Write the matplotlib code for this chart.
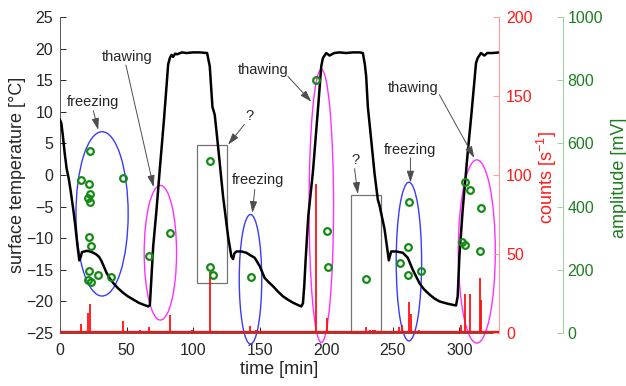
import matplotlib
matplotlib.use("Agg")
import matplotlib.pyplot as plt
from matplotlib.patches import Ellipse, Rectangle

plt.rcParams['font.family'] = ['Liberation Sans', 'DejaVu Sans']
plt.rcParams['mathtext.fontset'] = 'custom'
plt.rcParams['mathtext.rm'] = 'Liberation Sans'
plt.rcParams['mathtext.it'] = 'Liberation Sans:italic'

# ---------------- data ----------------
temp_t = [0, 1, 2, 3.5, 5, 6.5, 8, 10, 11.5, 13, 14.5, 15.5, 16.5, 20, 22.5, 25, 27.5,
          29.5, 31.25, 33, 35, 37.5, 40, 43.5, 47.5, 51, 55, 59, 62.5, 66.25, 67.5,
          68.75, 70, 72.5, 75, 78, 80, 81.25, 82.5, 83.75, 85, 86.5, 88, 91.5, 95,
          100, 105, 110.5, 112.5, 114.5, 116.25, 118.75, 122.5, 126.25, 128.75, 130,
          131, 132.5, 136.25, 140, 143, 146.25, 150, 153.75, 157, 160, 163.5, 167.5,
          171, 175, 178, 181.25, 182.5, 183.5, 184.5, 186.5, 190, 194, 196.25, 197.5,
          200, 202.5, 206, 210, 215, 220, 225, 227.5, 229, 230, 231.25, 233.75,
          236.25, 238.75, 240, 243.75, 246.25, 247, 248.75, 252.5, 257.5, 261.25,
          265, 270, 273.5, 277.5, 281, 285, 290, 294, 297.5, 298.75, 300, 302.5,
          306.25, 309, 312.5, 313.75, 316.25, 318.75, 321, 325, 330]
temp_v = [8.7, 8.2, 6.5, 3.5, 1.0, -0.5, -2.5, -5.5, -8.0, -11.0, -13.5, -13.0, -12.2,
          -12.0, -12.1, -12.3, -12.6, -13.0, -13.65, -14.5, -15.5, -16.4, -17.1, -17.9,
          -18.65, -19.2, -19.7, -20.2, -20.5, -20.8, -20.6, -16.0, -11.3, -5.5, 1.0,
          8.5, 14.0, 17.5, 18.5, 19.0, 18.7, 19.2, 19.1, 19.4, 19.3, 19.4, 19.4, 19.3,
          17.2, 10.8, 9.5, 4.5, -3.4, -9.7, -12.9, -13.3, -12.4, -12.1, -12.1, -12.3,
          -12.7, -13.1, -14.4, -16.3, -17.0, -17.6, -18.4, -19.2, -19.7, -20.2, -20.5,
          -20.8, -20.3, -17.5, -13.5, -6.5, 0.5, 11.0, 17.2, 18.5, 19.3, 18.9, 19.3,
          19.4, 19.3, 19.4, 19.4, 19.3, 17.5, 15.6, 10.8, 5.6, 0.3, -3.9, -4.8, -8.5,
          -12.3, -13.5, -12.1, -12.1, -12.3, -13.1, -15.0, -17.1, -18.1, -18.9, -19.5,
          -20.0, -20.3, -20.5, -20.65, -19.2, -12.9, -5.5, 3.5, 9.5, 17.7, 18.5, 19.3,
          18.9, 19.3, 19.3, 19.4]

count_baseline = 0.8
spike_t = [15.75, 21.2, 22.5, 28, 35, 47, 52, 56, 60, 67, 70, 74, 83, 99.5, 112.5, 117,
           125, 142.5, 147.5, 152, 166, 176, 181, 192, 200.5, 229.5, 233, 235, 237,
           244, 255, 257, 262, 264, 270, 285, 301.2, 304.5, 308, 315.5, 316.5, 320]
spike_h = [6, 12.5, 18.5, 1.5, 1.5, 7.5, 1.5, 1.5, 2, 4, 1.5, 1.5, 11.5, 2, 38.5, 1.5,
           1.5, 4.5, 2, 1.5, 1.5, 1.5, 1.5, 94, 9.5, 4, 2, 2, 2, 1.5, 4, 5, 19.5, 12,
           2, 1.5, 5, 25, 25, 34.5, 21, 1.5]

amp_t = [15.75, 21.5, 22.5, 22.5, 21.25, 22.5, 22, 23, 21.75, 21.25, 23, 28.75, 38.25,
         47.5, 67, 83, 112.75, 112.5, 115.25, 143.25, 192, 200.5, 201.5, 229.5, 262.25,
         261.5, 255.5, 261.75, 271.25, 304.25, 308, 316, 302, 304.5, 315.25]
amp_v = [483, 472, 576, 440, 428, 413, 304, 276, 196, 168, 161, 185, 176, 489, 244, 315,
         545, 210, 185, 176, 800, 323, 210, 170, 413, 272, 220, 185, 196, 479, 454, 396,
         289, 278, 260]

# ellipses: (center t, center temp, width, height, colour)
ellipses = [(31.6, -6.15, 39.2, 26.0, '#3a3aff'),
            (75.4, -12.3, 24.3, 21.3, '#ff30ff'),
            (143.1, -16.5, 16.9, 20.5, '#3a3aff'),
            (196.3, -4.9, 18.4, 43.2, '#ff30ff'),
            (262.1, -13.7, 19.1, 25.1, '#3a3aff'),
            (313.1, -12.1, 27.8, 29.0, '#ff30ff')]
# rectangles: (t0, temp0, width, height)
rects = [(103.0, -17.1, 22.5, 21.8),
         (218.3, -25.0, 23.0, 21.9)]
# annotations: text, text pos, arrow tail, arrow head
notes = [('freezing', (25, 11.6), (25, 10.2), (28.7, 7.15)),
         ('thawing', (50.8, 18.7), (49.5, 17.4), (70.3, -1.9)),
         ('?', (142.5, 9.3), (138.5, 8.0), (126.3, 4.8)),
         ('thawing', (152.5, 16.6), (171.2, 15.6), (188.75, 11.6)),
         ('freezing', (148.75, -0.75), (146.3, -2.3), (144.5, -6.0)),
         ('?', (221.75, 2.3), (221.25, 1.0), (223.75, -3.0)),
         ('freezing', (263.25, 4.0), (263.25, 2.7), (263.25, -1.2)),
         ('thawing', (265, 13.7), (285, 12.7), (311.25, 2.7))]

x_ticks = [0, 50, 100, 150, 200, 250, 300]
temp_ticks = [-25, -20, -15, -10, -5, 0, 5, 10, 15, 20, 25]
count_ticks = [0, 50, 100, 150, 200]
amp_ticks = [0, 200, 400, 600, 800, 1000]

# ---------------- figure ----------------
W, H = 626, 386
fig = plt.figure(figsize=(W / 100, H / 100), dpi=100)
ax = fig.add_axes([60 / W, 1 - 333 / H, 439.3 / W, 316 / H])

txtc = '#262626'
ax.set_xlim(0, 330)
ax.set_ylim(-25, 25)
ax.set_xticks(x_ticks)
ax.set_yticks(temp_ticks)
ax.tick_params(direction='in', length=4, width=0.7, colors=txtc, labelsize=11.5)
ax.tick_params(axis='x', pad=7)
ax.tick_params(axis='y', pad=5)
for s in ['top', 'right']:
    ax.spines[s].set_visible(False)
for s in ['left', 'bottom']:
    ax.spines[s].set_color('0.35')
    ax.spines[s].set_linewidth(0.7)

for cx, cy, w, h, c in ellipses:
    ax.add_patch(Ellipse((cx, cy), w, h, fill=False, ec=c, lw=1.0, clip_on=False, zorder=2))
for x0, y0, w, h in rects:
    ax.add_patch(Rectangle((x0, y0), w, h, fill=False, ec='0.45', lw=0.9, clip_on=False, zorder=2))

ax.plot(temp_t, temp_v, color='black', lw=1.8, zorder=3)

for txt, tp, tail, head in notes:
    ax.text(tp[0], tp[1], txt, ha='center', va='center', fontsize=10.5, color=txtc)
    ax.annotate('', xy=head, xytext=tail,
                arrowprops=dict(arrowstyle='-|>,head_length=0.7,head_width=0.22',
                                color='0.3', lw=0.7, shrinkA=0, shrinkB=0,
                                mutation_scale=10))

# counts axis
ax2 = ax.twinx()
ax2.set_ylim(0, 200)
ax2.set_yticks(count_ticks)
for s in ['top', 'left', 'bottom']:
    ax2.spines[s].set_visible(False)
ax2.spines['right'].set_color('#ff9d9d')
ax2.spines['right'].set_linewidth(0.8)
ax2.tick_params(direction='in', length=4, width=0.7, color='#ff9d9d',
                labelcolor='#ff1a1a', labelsize=11.5, pad=5)
ax2.hlines(count_baseline, 0, 330, color='#ff1010', lw=1.6, zorder=3)
ax2.vlines(spike_t, count_baseline, spike_h, color='#ff1010', lw=1.3, zorder=3)

# amplitude axis
ax3 = ax.twinx()
ax3.set_ylim(0, 1000)
ax3.set_yticks(amp_ticks)
for s in ['top', 'left', 'bottom']:
    ax3.spines[s].set_visible(False)
ax3.spines['right'].set_position(('axes', (563.3 - 60) / 439.3))
ax3.spines['right'].set_color('#9fd29f')
ax3.spines['right'].set_linewidth(0.8)
ax3.tick_params(direction='in', length=4, width=0.7, color='#9fd29f',
                labelcolor='#1e7d1e', labelsize=11.5, pad=3)
ax3.plot(amp_t, amp_v, 'o', mfc='none', mec='#138a13', mew=1.6, ms=4.8, zorder=4)

# labels
fig.text(18 / W, 1 - 175 / H, 'surface temperature [°C]', rotation=90,
         ha='center', va='center', fontsize=13, color=txtc)
fig.text(547 / W, 1 - 178 / H, r'counts [s$\mathregular{^{-1}}$]', rotation=90,
         ha='center', va='center', fontsize=13, color='#ff1a1a')
fig.text(619 / W, 1 - 178 / H, 'amplitude [mV]', rotation=90,
         ha='center', va='center', fontsize=13, color='#1e7d1e')
fig.text(279 / W, 1 - 370 / H, 'time [min]', ha='center', va='center',
         fontsize=13, color=txtc)

fig.savefig('out.png', dpi=100)
